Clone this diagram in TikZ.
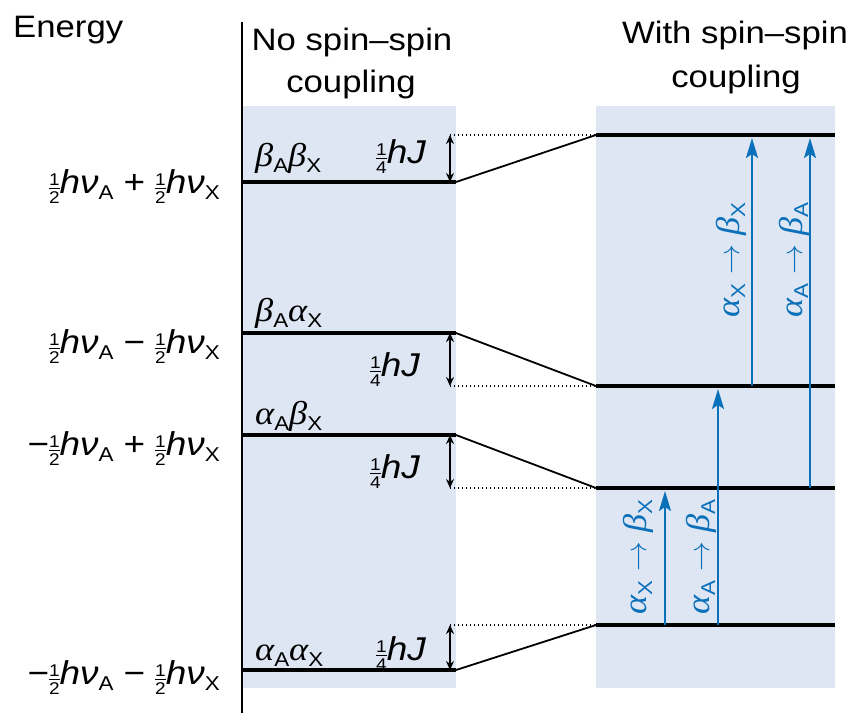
\documentclass[tikz,border=0pt]{standalone}
\usepackage{graphicx}
\usepackage{fontspec}
\setmainfont{Liberation Sans}[FakeStretch=1.12]
\newfontfamily\grk{Liberation Serif}[FakeStretch=1.1]
\usetikzlibrary{arrows.meta}
\definecolor{panelfill}{RGB}{222,230,243}
\definecolor{tblue}{RGB}{10,112,186}
\newcommand\myfr[2]{{\fontsize{17}{17}\selectfont$\vcenter{\hbox{#1}\kern2.5pt\hrule height0.5pt\kern2.5pt\hbox{#2}}$}}
\newcommand\mysb[1]{\raisebox{-6pt}{\fontsize{20}{20}\selectfont #1}}
\newcommand\myhnu{\textit{hν}}
\newcommand\mygb{{\grk\itshape β}}
\newcommand\myga{{\grk\itshape α}}
\newcommand\myop[1]{\hspace{10pt}#1\hspace{10pt}}
\newcommand\myto{\hspace{9pt}\scalebox{1.2}{$\rightarrow$}\hspace{9pt}}
\begin{document}
\begin{tikzpicture}[x=1pt,y=-1pt,
  panel/.style={fill=panelfill},
  axisline/.style={line width=1.4pt},
  level/.style={line width=3.2pt},
  conn/.style={line width=1.8pt},
  dots/.style={line width=1.1pt,dash pattern=on 1.2pt off 2.8pt},
  dbl/.style={line width=1.4pt,{Stealth[length=9pt,width=8pt]}-{Stealth[length=9pt,width=8pt]}},
  trans/.style={line width=2pt,draw=tblue,-{Stealth[length=20pt,width=12pt,inset=4pt]}},
  head/.style={font=\fontsize{31}{36}\selectfont,anchor=base,inner sep=0pt},
  elab/.style={font=\fontsize{33}{36}\selectfont,anchor=base east,inner sep=0pt},
  glab/.style={font=\fontsize{33}{36}\selectfont,anchor=base west,inner sep=0pt},
  jlab/.style={font=\fontsize{33}{36}\selectfont,anchor=base west,inner sep=0pt},
  tlab/.style={font=\fontsize{33}{36}\selectfont,text=tblue,rotate=90,inner sep=0pt}
]
\useasboundingbox (0,0) rectangle (855,713);
% panels
\fill[panel] (242,106) rectangle (456,688);
\fill[panel] (596,106) rectangle (835,688);
% axis
\coordinate (axT) at (242,22);
\coordinate (axB) at (242,713);
\draw[axisline] (axT) -- (axB);
% left levels
\coordinate (L1a) at (242,182); \coordinate (L1b) at (456,182);
\coordinate (L2a) at (242,333); \coordinate (L2b) at (456,333);
\coordinate (L3a) at (242,435); \coordinate (L3b) at (456,435);
\coordinate (L4a) at (242,670); \coordinate (L4b) at (456,670);
% right levels
\coordinate (R1a) at (596,135); \coordinate (R1b) at (835,135);
\coordinate (R2a) at (596,386); \coordinate (R2b) at (835,386);
\coordinate (R3a) at (596,488); \coordinate (R3b) at (835,488);
\coordinate (R4a) at (596,625); \coordinate (R4b) at (835,625);
% dotted starts and double-arrow ends
\coordinate (D1) at (450,135); \coordinate (E1) at (450,182);
\coordinate (D2) at (450,386); \coordinate (E2) at (450,333);
\coordinate (D3) at (450,488); \coordinate (E3) at (450,435);
\coordinate (D4) at (450,625); \coordinate (E4) at (450,670);
\foreach \i in {1,2,3,4} {
  \draw[dots] (D\i) -- (R\i a);
  \draw[conn] (L\i b) -- (R\i a);
  \draw[level] (L\i a) -- (L\i b);
  \draw[level] (R\i a) -- (R\i b);
  \draw[dbl] (D\i) -- (E\i);
}
% transitions
\coordinate (T1s) at (752,386); \coordinate (T1e) at (752,138);
\coordinate (T2s) at (810,488); \coordinate (T2e) at (810,138);
\coordinate (T3s) at (718,625); \coordinate (T3e) at (718,389);
\coordinate (T4s) at (665,625); \coordinate (T4e) at (665,491);
\foreach \i in {1,2,3,4} { \draw[trans] (T\i s) -- (T\i e); }
% headings
\node[anchor=base west,inner sep=0pt,font=\fontsize{31}{36}\selectfont] (energy) at (13,37) {Energy};
\node[head] (h1a) at (352,50) {No spin–spin};
\node[head] (h1b) at (351,92) {coupling};
\node[head] (h2a) at (735,43) {With spin–spin};
\node[head] (h2b) at (736,87) {coupling};
% energy labels
\node[elab] (e1) at (220,193) {\myfr12\myhnu\mysb{A}\myop{+}\myfr12\myhnu\mysb{X}};
\node[elab] (e2) at (220,353) {\myfr12\myhnu\mysb{A}\myop{−}\myfr12\myhnu\mysb{X}};
\node[elab] (e3) at (220,455) {−\myfr12\myhnu\mysb{A}\myop{+}\myfr12\myhnu\mysb{X}};
\node[elab] (e4) at (220,684) {−\myfr12\myhnu\mysb{A}\myop{−}\myfr12\myhnu\mysb{X}};
% state labels
\node[glab] (s1) at (255,166) {\mygb\mysb{A}\mygb\mysb{X}};
\node[glab] (s2) at (255,321) {\mygb\mysb{A}\myga\mysb{X}};
\node[glab] (s3) at (255,424) {\myga\mysb{A}\mygb\mysb{X}};
\node[glab] (s4) at (255,660) {\myga\mysb{A}\myga\mysb{X}};
% coupling labels
\node[jlab] (j1) at (376,163) {\myfr14\textit{hJ}};
\node[jlab] (j2) at (370,376) {\myfr14\textit{hJ}};
\node[jlab] (j3) at (370,478) {\myfr14\textit{hJ}};
\node[jlab] (j4) at (376,660) {\myfr14\textit{hJ}};
% transition labels
\node[tlab] (t1) at (731,260) {\myga\mysb{X}\myto\mygb\mysb{X}};
\node[tlab] (t2) at (794,260) {\myga\mysb{A}\myto\mygb\mysb{A}};
\node[tlab] (t3) at (638,557) {\myga\mysb{X}\myto\mygb\mysb{X}};
\node[tlab] (t4) at (701,557) {\myga\mysb{A}\myto\mygb\mysb{A}};
\end{tikzpicture}
\end{document}
